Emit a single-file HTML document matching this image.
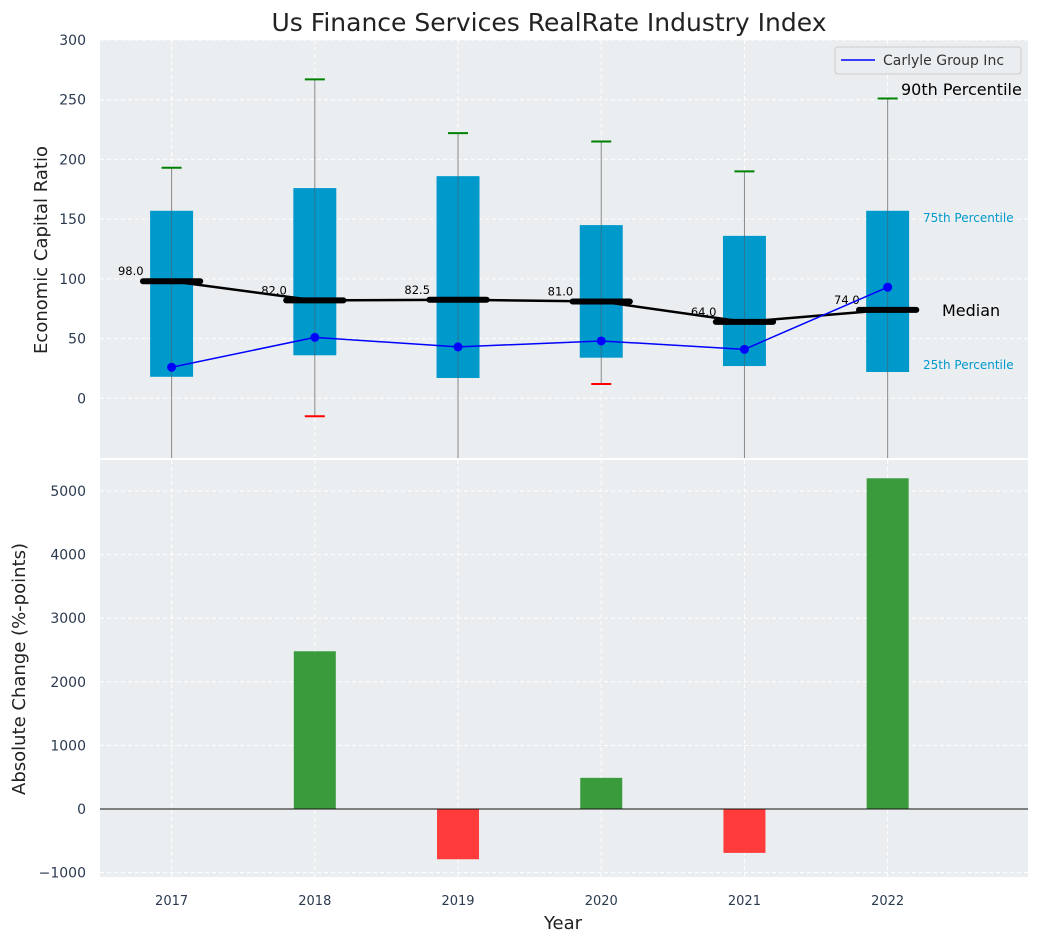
<!DOCTYPE html>
<html><head><meta charset="utf-8"><style>
body{margin:0;background:#fff;font-family:"Liberation Sans","DejaVu Sans",sans-serif}
svg text{font-family:"DejaVu Sans","Liberation Sans",sans-serif}
</style></head><body>
<svg id="c" width="1039" height="942"></svg>
<script>
const years=[2017,2018,2019,2020,2021,2022];
const p25=[18,36,17,34,27,22];
const p75=[157,176,186,145,136,157];
const p90=[193,267,222,215,190,251];
const p10=[-80,-15,-80,12,-80,-80];
const medians=[98,82,82.5,81,64,74];
const carlyle=[26,51,43,48,41,93];
const changes=[0,2480,-790,490,-690,5200];
const topTicks=[0,50,100,150,200,250,300];
const botTicks=[-1000,0,1000,2000,3000,4000,5000];

const NS="http://www.w3.org/2000/svg";
const svg=document.getElementById('c');
function el(t,a,parent){const e=document.createElementNS(NS,t);for(const k in a)e.setAttribute(k,a[k]);(parent||svg).appendChild(e);return e;}
const L=100,R=1028;
const XMIN=2016.5,XMAX=2022.98;
const xs=v=>L+(v-XMIN)/(XMAX-XMIN)*(R-L);
const UNIT=(R-L)/(XMAX-XMIN);
const T0=40,T1=458; const yt=v=>T0+(300-v)/350*(T1-T0);
const B0=460,B1=877; const yb=v=>809-v*0.0636;
const TC='#2b3a4f';

let bg=el('rect',{x:L,y:T0,width:R-L,height:T1-T0,fill:'#eaeef0'});

let bg2=el('rect',{x:L,y:B0,width:R-L,height:B1-B0,fill:'#eaeef0'});


const defs=el('defs',{});
const cp=el('clipPath',{id:'ct'},defs);el('rect',{x:L,y:T0,width:R-L,height:T1-T0},cp);
const cpb=el('clipPath',{id:'cb'},defs);el('rect',{x:L,y:B0,width:R-L,height:B1-B0},cpb);

years.forEach(y=>{
 el('line',{x1:xs(y),x2:xs(y),y1:T0,y2:T1,stroke:'#fff','stroke-dasharray':'4,3'});
 el('line',{x1:xs(y),x2:xs(y),y1:B0,y2:B1,stroke:'#fff','stroke-dasharray':'4,3'});
 const t=el('text',{x:xs(y),y:905,'text-anchor':'middle','font-size':13,fill:TC});t.textContent=y;
 
});
topTicks.forEach(v=>{
 el('line',{x1:L,x2:R,y1:yt(v),y2:yt(v),stroke:'#fff','stroke-dasharray':'4,3'});
 const t=el('text',{x:86,y:yt(v)+5,'text-anchor':'end','font-size':14,fill:TC});t.textContent=v;
 
});
botTicks.forEach(v=>{
 el('line',{x1:L,x2:R,y1:yb(v),y2:yb(v),stroke:'#fff','stroke-dasharray':'4,3'});
 const t=el('text',{x:86,y:yb(v)+5,'text-anchor':'end','font-size':14,fill:TC});t.textContent=(v<0?'\u2212'+(-v):v);
 
});

const gt=el('g',{'clip-path':'url(#ct)'});
const hw=0.15*UNIT;
years.forEach((y,i)=>{
 const x=xs(y);
 const w=el('line',{x1:x,x2:x,y1:yt(p10[i]),y2:yt(p90[i]),stroke:'#888','stroke-width':1},gt);
 
 const b=el('rect',{x:x-hw,y:yt(p75[i]),width:2*hw,height:yt(p25[i])-yt(p75[i]),fill:'#0099cc'},gt);
 
 el('line',{x1:x,x2:x,y1:yt(p25[i]),y2:yt(p75[i]),stroke:'#555','stroke-width':1,opacity:0.5},gt);
 const c9=el('line',{x1:x-10,x2:x+10,y1:yt(p90[i]),y2:yt(p90[i]),stroke:'green','stroke-width':2},gt);
 
 const c1=el('line',{x1:x-10,x2:x+10,y1:yt(p10[i]),y2:yt(p10[i]),stroke:'red','stroke-width':2},gt);
 
});
let md=years.map((y,i)=>xs(y)+','+yt(medians[i])).join(' ');
const ml=el('polyline',{points:md,fill:'none',stroke:'#000','stroke-width':2.5},gt);

years.forEach((y,i)=>{
 const x=xs(y);
 const m=el('line',{x1:x-0.2*UNIT,x2:x+0.2*UNIT,y1:yt(medians[i]),y2:yt(medians[i]),stroke:'#000','stroke-width':6,'stroke-linecap':'round'},gt);
 
 const t=el('text',{x:x-28,y:yt(medians[i])-6,'text-anchor':'end','font-size':11.5,fill:'#000'},gt);t.textContent=medians[i].toFixed(1);
 
});
const cl=el('polyline',{points:years.map((y,i)=>xs(y)+','+yt(carlyle[i])).join(' '),fill:'none',stroke:'blue','stroke-width':1.5},gt);

years.forEach((y,i)=>{const c=el('circle',{cx:xs(y),cy:yt(carlyle[i]),r:4.5,fill:'blue'},gt);
 });

function txt(x,y,s,fs,col,name){const t=el('text',{x:x,y:y,'font-size':fs,fill:col});t.textContent=s;return t;}
txt(901,95,'90th Percentile',16,'#000','p90-annotation');
txt(923,222,'75th Percentile',12,'#0099cc','p75-annotation');
txt(923,369,'25th Percentile',12,'#0099cc','p25-annotation');
txt(942,316,'Median',16,'#000','median-annotation');

const lg=el('g',{});
el('rect',{x:835,y:47,width:186,height:27,fill:'#eaeef0',stroke:'#ccc',rx:3},lg);
el('line',{x1:841,x2:875,y1:60,y2:60,stroke:'blue','stroke-width':1.5},lg);
const lt=el('text',{x:883,y:65,'font-size':14,fill:'#333'},lg);lt.textContent='Carlyle Group Inc';


const gb=el('g',{'clip-path':'url(#cb)'});
years.forEach((y,i)=>{
 const v=changes[i];const x=xs(y);
 const r=el('rect',{x:x-21,y:Math.min(yb(0),yb(v)),width:42,height:Math.abs(yb(v)-yb(0)),fill:v>=0?'#3a9b3c':'#ff3b3b'},gb);
 
});
el('line',{x1:L,x2:R,y1:yb(0),y2:yb(0),stroke:'#111','stroke-width':1});

txt(549,31,'Us Finance Services RealRate Industry Index',25,'#222','chart-title').setAttribute('text-anchor','middle');
txt(563,929,'Year',18,'#222','x-axis-title').setAttribute('text-anchor','middle');
const yt1=txt(0,0,'Economic Capital Ratio',18,'#222','top-y-axis-title');yt1.setAttribute('text-anchor','middle');yt1.setAttribute('transform','translate(47,250) rotate(-90)');
const yt2=txt(0,0,'Absolute Change (%-points)',18,'#222','bottom-y-axis-title');yt2.setAttribute('text-anchor','middle');yt2.setAttribute('transform','translate(25,669) rotate(-90)');
</script>
</body></html>
